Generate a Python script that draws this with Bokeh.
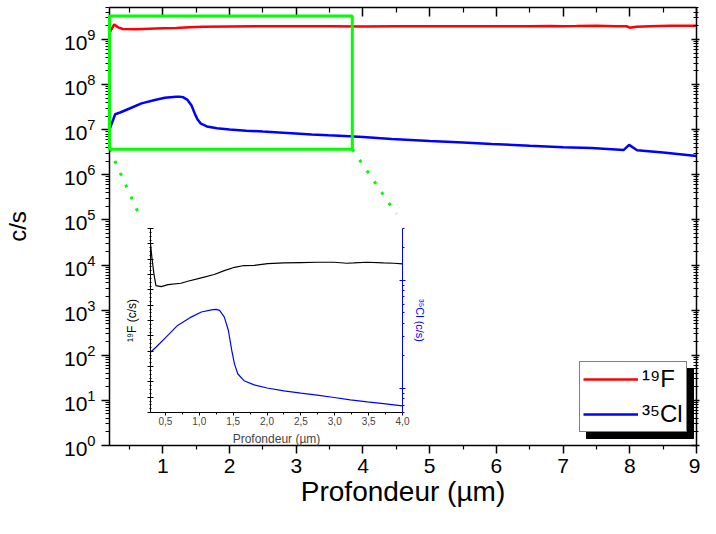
from bokeh.plotting import figure
from bokeh.models import (Range1d, LogAxis, LinearAxis, FixedTicker, LogScale,
                          Legend, LegendItem, SingleIntervalTicker, CustomJSTickFormatter)
from bokeh.embed import file_html
from bokeh.resources import INLINE

FONT = "Liberation Sans"

# ---------------- main chart data ----------------
f19_x = [0.2, 0.27, 0.33, 0.4, 0.6, 0.8, 1.0, 1.2, 1.4, 1.6, 2.0, 2.5, 3.0, 3.5, 4.0, 4.5,
         5.0, 5.5, 6.0, 6.5, 6.8, 7.0, 7.2, 7.5, 7.8, 7.95, 8.0, 8.1, 8.3, 8.6, 9.0]
f19_y = [1.4e9, 2.15e9, 1.85e9, 1.7e9, 1.68e9, 1.72e9, 1.76e9, 1.80e9, 1.86e9, 1.92e9,
         1.94e9, 1.95e9, 1.96e9, 1.95e9, 1.94e9, 1.95e9, 1.95e9, 1.96e9, 1.96e9, 1.97e9,
         1.99e9, 1.97e9, 1.98e9, 2.0e9, 1.97e9, 1.96e9, 1.82e9, 1.92e9, 1.97e9, 2.02e9, 2.0e9]

cl35_x = [0.2, 0.285, 0.36, 0.51, 0.68, 0.88, 1.03, 1.2, 1.25, 1.3, 1.37, 1.43, 1.48, 1.52,
          1.57, 1.66, 1.81, 2.0, 2.25, 2.5, 2.74, 2.99, 3.23, 3.48, 3.72, 4.0, 4.43, 5.0,
          5.5, 5.93, 6.5, 7.0, 7.42, 7.91, 7.99, 8.11, 8.5, 9.0]
cl35_y = [1.0e7, 2.2e7, 2.4e7, 2.98e7, 3.82e7, 4.56e7, 5.08e7, 5.34e7, 5.38e7, 5.26e7,
          4.56e7, 3.43e7, 2.24e7, 1.68e7, 1.36e7, 1.18e7, 1.08e7, 1.01e7, 9.5e6, 9.05e6,
          8.67e6, 8.25e6, 7.85e6, 7.52e6, 7.26e6, 6.9e6, 6.2e6, 5.6e6, 5.2e6, 4.8e6,
          4.4e6, 4.1e6, 3.9e6, 3.55e6, 4.6e6, 3.5e6, 3.1e6, 2.6e6]

x_ticks = [1, 2, 3, 4, 5, 6, 7, 8, 9]
decades = [1e0, 1e1, 1e2, 1e3, 1e4, 1e5, 1e6, 1e7, 1e8, 1e9]

series_labels = ["\u00b9\u2079F", "\u00b3\u2075Cl"]
x_title = "Profondeur (\u00b5m)"

# zoom box and connector end points (data coordinates of the main chart)
zoom_box_x = [0.2, 3.84]
zoom_box_y = [3.7e6, 3.3e9]
connector_end_x = [0.645, 4.5]
connector_end_y = [1.3e5, 1.35e5]

# ---------------- inset data ----------------
inset_f19_x = [0.28, 0.30, 0.33, 0.36, 0.44, 0.54, 0.73, 0.83, 1.03, 1.22, 1.37, 1.52, 1.66,
               1.81, 2.01, 2.25, 2.5, 2.74, 2.99, 3.18, 3.28, 3.48, 3.72, 3.87, 4.0]
inset_f19_y = [2.20e9, 2.025e9, 1.81e9, 1.655e9, 1.642e9, 1.668e9, 1.686e9, 1.712e9, 1.756e9,
               1.80e9, 1.851e9, 1.894e9, 1.917e9, 1.92e9, 1.942e9, 1.951e9, 1.956e9, 1.96e9,
               1.96e9, 1.947e9, 1.951e9, 1.96e9, 1.951e9, 1.947e9, 1.938e9]
inset_cl_x = [0.28, 0.36, 0.51, 0.68, 0.88, 1.03, 1.2, 1.25, 1.3, 1.37, 1.43, 1.48, 1.52, 1.57,
              1.66, 1.81, 2.0, 2.25, 2.5, 2.74, 2.99, 3.23, 3.48, 3.72, 4.0]
inset_cl_y = [2.16e7, 2.4e7, 2.98e7, 3.82e7, 4.56e7, 5.08e7, 5.34e7, 5.38e7, 5.26e7, 4.56e7,
              3.43e7, 2.24e7, 1.68e7, 1.36e7, 1.18e7, 1.08e7, 1.01e7, 9.5e6, 9.05e6, 8.67e6,
              8.25e6, 7.85e6, 7.52e6, 7.26e6, 6.9e6]
inset_ticks = [0.5, 1.0, 1.5, 2.0, 2.5, 3.0, 3.5, 4.0]
inset_tick_labels = ["0,5", "1,0", "1,5", "2,0", "2,5", "3,0", "3,5", "4,0"]
inset_cl_decades = [1e7, 1e8]


def hide_labels(ax):
    ax.formatter = CustomJSTickFormatter(code="return ''")
    ax.major_label_text_font_size = "1px"
    ax.major_label_standoff = 0


# ================= main figure =================
p = figure(width=700, height=516, x_range=Range1d(0.2, 9.0), y_range=Range1d(1, 5.1e9),
           y_axis_type="log", output_backend="svg", toolbar_location=None,
           min_border_left=104, min_border_right=4, min_border_top=7, min_border_bottom=71,
           background_fill_color="white", border_fill_color="white")
p.grid.visible = False
p.outline_line_color = None

x_minor = [t - 0.5 for t in x_ticks]
y_minor = [m * d for d in decades for m in range(2, 10)]
xticker = FixedTicker(ticks=x_ticks, minor_ticks=x_minor)
yticker = FixedTicker(ticks=decades, minor_ticks=y_minor)

xa = p.xaxis[0]
xa.ticker = xticker
ya = p.yaxis[0]
ya.ticker = yticker

for ax in (xa, ya):
    ax.axis_line_width = 1.5
    ax.axis_line_color = "black"
    ax.major_tick_line_width = 1.5
    ax.minor_tick_line_width = 1.2
    ax.major_tick_out = 8
    ax.major_tick_in = 0
    ax.minor_tick_out = 4
    ax.minor_tick_in = 0
    ax.major_label_text_font = FONT
    ax.major_label_text_font_size = "21px"
    ax.major_label_text_color = "black"
    ax.axis_label_text_font = FONT
    ax.axis_label_text_font_style = "normal"
    ax.axis_label_text_color = "black"

xa.major_label_standoff = 5
xa.axis_label = x_title
xa.axis_label_text_font_size = "28px"
xa.axis_label_standoff = 0

ya.major_label_standoff = 6
ya.axis_label = "c/s"
ya.axis_label_text_font_size = "24px"
ya.axis_label_standoff = 30

top_axis = LinearAxis(ticker=xticker, major_tick_in=9, major_tick_out=0, minor_tick_in=5,
                      minor_tick_out=0, axis_line_width=1.5, major_tick_line_width=1.5,
                      minor_tick_line_width=1.2)
hide_labels(top_axis)
p.add_layout(top_axis, "above")
right_axis = LogAxis(ticker=yticker, major_tick_in=5, major_tick_out=3, minor_tick_in=3,
                     minor_tick_out=2, axis_line_width=1.5, major_tick_line_width=1.5,
                     minor_tick_line_width=1.2)
hide_labels(right_axis)
p.add_layout(right_axis, "right")

r_f = p.line(f19_x, f19_y, line_color="#ff0000", line_width=2.5)
r_cl = p.line(cl35_x, cl35_y, line_color="#0000ff", line_width=2.5)

# zoom box and dotted connectors
p.quad(left=[zoom_box_x[0]], right=[zoom_box_x[1]], bottom=[zoom_box_y[0]], top=[zoom_box_y[1]],
       fill_color=None, line_color="#00ff00", line_width=3, level="overlay")
p.segment(x0=zoom_box_x, y0=[zoom_box_y[0], zoom_box_y[0]], x1=connector_end_x, y1=connector_end_y,
          line_color="#00ff00", line_width=3, line_dash="3 10")

# legend with a drop shadow
leg_common = dict(label_text_font=FONT, label_text_font_size="24px", glyph_width=55,
                  glyph_height=28, label_height=28, label_standoff=4, padding=3, spacing=7,
                  margin=0, border_line_color="black", border_line_width=1)
shadow = Legend(items=[LegendItem(label=series_labels[0], renderers=[r_f]),
                       LegendItem(label=series_labels[1], renderers=[r_cl])],
                location=(477, 6), background_fill_color="black", background_fill_alpha=1,
                label_text_color="black", **leg_common)
legend = Legend(items=[LegendItem(label=series_labels[0], renderers=[r_f]),
                       LegendItem(label=series_labels[1], renderers=[r_cl])],
                location=(470, 13), background_fill_color="white", background_fill_alpha=1,
                label_text_color="black", **leg_common)
p.add_layout(shadow)
p.add_layout(legend)

# ================= inset figure =================
ins = figure(width=309, height=229, x_range=Range1d(0.28, 4.0), y_range=Range1d(0, 2.4e9),
             output_backend="svg", toolbar_location=None,
             min_border_left=28, min_border_right=28, min_border_top=8, min_border_bottom=37,
             background_fill_color="white", border_fill_alpha=0,
             styles={"position": "absolute", "left": "121px", "top": "220px"})
ins.grid.visible = False
ins.outline_line_color = None
ins.extra_y_ranges = {"cl": Range1d(6e6, 3e8)}
ins.extra_y_scales = {"cl": LogScale()}

ixa = ins.xaxis[0]
ixa.ticker = FixedTicker(ticks=inset_ticks, minor_ticks=[t - 0.25 for t in inset_ticks])
ixa.major_label_overrides = dict(zip(inset_ticks, inset_tick_labels))
ixa.major_label_text_font = FONT
ixa.major_label_text_font_size = "10px"
ixa.major_label_standoff = 1
ixa.major_tick_out = 3
ixa.major_tick_in = 0
ixa.minor_tick_out = 2
ixa.minor_tick_in = 0
ixa.axis_label = x_title
ixa.axis_label_text_font = FONT
ixa.axis_label_text_font_size = "12px"
ixa.axis_label_text_font_style = "normal"
ixa.axis_label_standoff = 4

iya = ins.yaxis[0]
iya.ticker = SingleIntervalTicker(interval=2e8, num_minor_ticks=4)
hide_labels(iya)
iya.major_tick_out = 3
iya.major_tick_in = 3
iya.minor_tick_out = 1
iya.minor_tick_in = 1
iya.axis_label = "\u00b9\u2079F (c/s)"
iya.axis_label_text_font = FONT
iya.axis_label_text_font_size = "12px"
iya.axis_label_text_font_style = "normal"
iya.axis_label_text_color = "black"
iya.axis_label_standoff = 9

cl_axis = LogAxis(y_range_name="cl",
                  ticker=FixedTicker(ticks=inset_cl_decades,
                                     minor_ticks=[m * d for d in [1e6] + inset_cl_decades for m in range(2, 10)]),
                  major_tick_out=3, major_tick_in=3, minor_tick_out=2, minor_tick_in=0,
                  axis_line_color="#0000ff", major_tick_line_color="#0000ff",
                  minor_tick_line_color="#0000ff",
                  axis_label="\u00b3\u2075Cl (c/s)", axis_label_text_color="#0000ff",
                  axis_label_text_font=FONT, axis_label_text_font_size="11px",
                  axis_label_text_font_style="normal", axis_label_standoff=8)
hide_labels(cl_axis)
ins.add_layout(cl_axis, "right")

ins.line(inset_f19_x, inset_f19_y, line_color="black", line_width=1.2)
ins.line(inset_cl_x, inset_cl_y, line_color="#0000ff", line_width=1.2, y_range_name="cl")

open("out.html", "w").write(file_html([p, ins], INLINE))
